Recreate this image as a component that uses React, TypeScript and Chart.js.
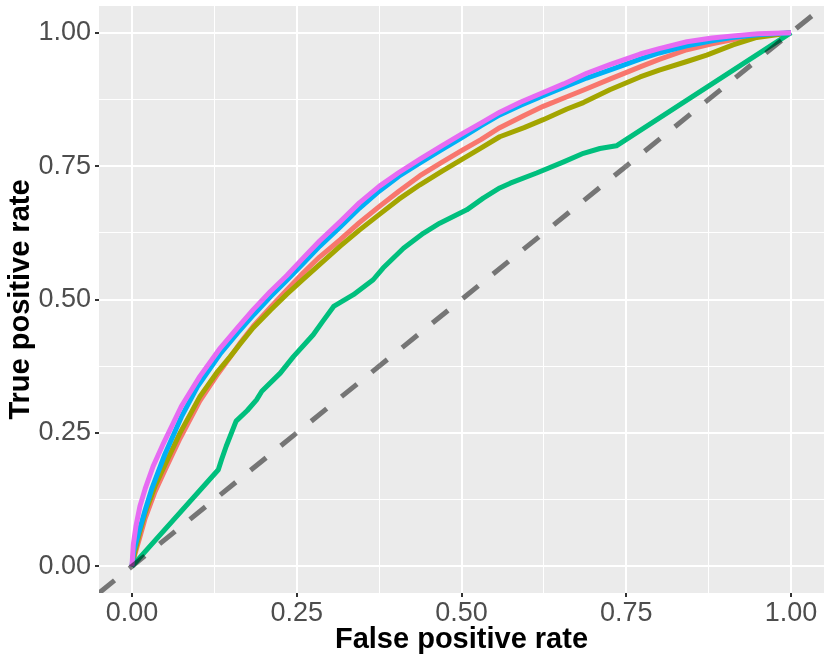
import { useEffect, useRef } from "react";
import { Chart, registerables } from "chart.js";

Chart.register(...registerables);

// axis limits (ggplot expands 5% each side)
const AXIS_MIN = -0.05;
const AXIS_MAX = 1.05;
const MAJOR_TICKS = [0, 0.25, 0.5, 0.75, 1];
const MINOR_TICKS = [0.125, 0.375, 0.625, 0.875];

const redFpr = [0, 0.005, 0.012, 0.02, 0.035, 0.05, 0.073, 0.103, 0.13, 0.149, 0.165, 0.184, 0.21, 0.235, 0.26, 0.285, 0.316, 0.345, 0.375, 0.405, 0.437, 0.47, 0.5, 0.53, 0.558, 0.595, 0.624, 0.66, 0.69, 0.725, 0.771, 0.8, 0.842, 0.88, 0.912, 0.95, 1];
const redTpr = [0, 0.025, 0.055, 0.09, 0.14, 0.18, 0.24, 0.31, 0.36, 0.392, 0.42, 0.45, 0.485, 0.518, 0.55, 0.58, 0.612, 0.644, 0.674, 0.703, 0.732, 0.757, 0.779, 0.8, 0.822, 0.845, 0.862, 0.88, 0.895, 0.913, 0.936, 0.95, 0.968, 0.979, 0.987, 0.994, 1];

const oliveFpr = [0, 0.005, 0.012, 0.02, 0.035, 0.05, 0.073, 0.103, 0.13, 0.149, 0.165, 0.184, 0.21, 0.235, 0.26, 0.285, 0.316, 0.345, 0.375, 0.405, 0.437, 0.47, 0.5, 0.53, 0.558, 0.595, 0.624, 0.66, 0.685, 0.725, 0.771, 0.8, 0.842, 0.872, 0.912, 0.948, 1];
const oliveTpr = [0, 0.03, 0.065, 0.1, 0.15, 0.19, 0.25, 0.318, 0.365, 0.393, 0.418, 0.447, 0.48, 0.51, 0.538, 0.566, 0.6, 0.63, 0.659, 0.688, 0.715, 0.74, 0.762, 0.784, 0.805, 0.822, 0.837, 0.857, 0.869, 0.893, 0.917, 0.93, 0.946, 0.958, 0.977, 0.991, 1];

const greenFpr = [0, 0.131, 0.136, 0.143, 0.158, 0.175, 0.189, 0.197, 0.225, 0.245, 0.275, 0.29, 0.306, 0.336, 0.366, 0.381, 0.412, 0.442, 0.467, 0.508, 0.533, 0.558, 0.574, 0.614, 0.655, 0.685, 0.71, 0.735, 1];
const greenTpr = [0, 0.181, 0.2, 0.225, 0.272, 0.292, 0.312, 0.328, 0.362, 0.393, 0.434, 0.46, 0.487, 0.509, 0.537, 0.559, 0.596, 0.624, 0.643, 0.668, 0.69, 0.709, 0.718, 0.737, 0.758, 0.774, 0.783, 0.788, 1];

const blueFpr = [0, 0.003, 0.01, 0.02, 0.03, 0.05, 0.075, 0.1, 0.135, 0.16, 0.185, 0.21, 0.235, 0.26, 0.285, 0.316, 0.345, 0.375, 0.405, 0.437, 0.47, 0.5, 0.53, 0.558, 0.59, 0.624, 0.66, 0.69, 0.73, 0.77, 0.8, 0.84, 0.88, 0.91, 0.95, 1];
const blueTpr = [0, 0.03, 0.062, 0.105, 0.145, 0.21, 0.28, 0.338, 0.4, 0.437, 0.472, 0.505, 0.536, 0.568, 0.6, 0.636, 0.671, 0.703, 0.731, 0.756, 0.781, 0.803, 0.826, 0.846, 0.864, 0.882, 0.9, 0.915, 0.932, 0.95, 0.962, 0.975, 0.985, 0.991, 0.996, 1];

const pinkFpr = [0, 0.002, 0.006, 0.012, 0.02, 0.032, 0.048, 0.075, 0.103, 0.134, 0.16, 0.184, 0.21, 0.235, 0.26, 0.285, 0.316, 0.345, 0.375, 0.405, 0.437, 0.47, 0.5, 0.53, 0.558, 0.59, 0.624, 0.655, 0.69, 0.725, 0.771, 0.8, 0.842, 0.88, 0.912, 0.95, 1];
const pinkTpr = [0, 0.04, 0.075, 0.112, 0.145, 0.187, 0.231, 0.3, 0.356, 0.409, 0.447, 0.481, 0.515, 0.545, 0.578, 0.61, 0.646, 0.681, 0.712, 0.738, 0.763, 0.788, 0.81, 0.831, 0.851, 0.87, 0.888, 0.904, 0.924, 0.94, 0.96, 0.97, 0.983, 0.99, 0.994, 0.998, 1];

const toPoints = (xs: number[], ys: number[]) => xs.map((x, i) => ({ x, y: ys[i] }));

const isMajor = (v: number) => MAJOR_TICKS.some((t) => Math.abs(t - v) < 1e-9);

const panelBackground = {
  id: "panelBackground",
  beforeDraw(chart: Chart) {
    const { ctx, chartArea } = chart;
    ctx.save();
    ctx.fillStyle = "#EBEBEB";
    ctx.fillRect(chartArea.left, chartArea.top, chartArea.right - chartArea.left, chartArea.bottom - chartArea.top);
    ctx.restore();
  },
};

function axisOptions(title: string, size: number, isX: boolean) {
  return {
    type: "linear" as const,
    min: AXIS_MIN,
    max: AXIS_MAX,
    bounds: "data" as const,
    afterBuildTicks: (axis: any) => {
      axis.ticks = [...MAJOR_TICKS, ...MINOR_TICKS].sort((a, b) => a - b).map((value) => ({ value }));
    },
    afterFit: (axis: any) => {
      // fixed axis box like the ggplot margins, no label overhang padding
      if (isX) {
        axis.height = size;
        axis.paddingLeft = 0;
        axis.paddingRight = 0;
      } else {
        axis.width = size;
        axis.paddingTop = 0;
        axis.paddingBottom = 0;
      }
    },
    border: { display: false },
    grid: {
      color: "#FFFFFF",
      lineWidth: (c: any) => (isMajor(c.tick.value) ? 2 : 1),
      drawTicks: true,
      tickLength: 4,
      tickWidth: 2,
      tickColor: (c: any) => (isMajor(c.tick.value) ? "#333333" : "rgba(0,0,0,0)"),
    },
    ticks: {
      autoSkip: false,
      maxRotation: 0,
      padding: isX ? 3 : 4,
      color: "#4D4D4D",
      font: { family: "'Liberation Sans', Arial, sans-serif", size: 27, lineHeight: 1 },
      callback: (v: any) => (isMajor(Number(v)) ? Number(v).toFixed(2) : ""),
    },
    title: {
      display: true,
      text: title,
      color: "#000000",
      padding: isX ? { top: 0, bottom: 7 } : { top: 4, bottom: 0 },
      font: { family: "'Liberation Sans', Arial, sans-serif", size: 29, weight: "bold" as const, lineHeight: 1.2 },
    },
  };
}

export default function App() {
  const chartRef = useRef<HTMLCanvasElement>(null);
  const chartInstance = useRef<Chart | null>(null);

  useEffect(() => {
    if (!chartRef.current) return;
    const ctx = chartRef.current.getContext("2d");
    if (!ctx) return;
    if (chartInstance.current) chartInstance.current.destroy();

    const curve = (label: string, color: string, xs: number[], ys: number[], order: number) => ({
      label,
      data: toPoints(xs, ys),
      borderColor: color,
      borderWidth: 5,
      borderJoinStyle: "round" as const,
      pointRadius: 0,
      tension: 0,
      fill: false,
      order,
    });

    chartInstance.current = new Chart(ctx, {
      type: "line",
      data: {
        datasets: [
          {
            label: "chance",
            data: [
              { x: AXIS_MIN, y: AXIS_MIN },
              { x: AXIS_MAX, y: AXIS_MAX },
            ],
            borderColor: "rgba(0,0,0,0.5)",
            borderWidth: 5,
            borderDash: [20, 19],
            pointRadius: 0,
            fill: false,
            clip: 0,
            order: 0,
          },
          curve("model 5", "#E76BF3", pinkFpr, pinkTpr, 1),
          curve("model 4", "#00B0F6", blueFpr, blueTpr, 2),
          curve("model 3", "#00BF7D", greenFpr, greenTpr, 3),
          curve("model 2", "#A3A500", oliveFpr, oliveTpr, 4),
          curve("model 1", "#F8766D", redFpr, redTpr, 5),
        ],
      },
      options: {
        responsive: false,
        animation: false,
        layout: { padding: { top: 6, right: 6, left: 0, bottom: 0 } },
        plugins: {
          legend: { display: false },
          tooltip: { enabled: false },
        },
        scales: {
          x: axisOptions("False positive rate", 71, true),
          y: axisOptions("True positive rate", 99, false),
        },
      },
      plugins: [panelBackground],
    });

    return () => {
      if (chartInstance.current) {
        chartInstance.current.destroy();
        chartInstance.current = null;
      }
    };
  }, []);

  return (
    <div style={{ position: "fixed", left: 0, top: 0, width: 830, height: 664, background: "#FFFFFF" }}>
      <canvas ref={chartRef} width={830} height={664}></canvas>
    </div>
  );
}
